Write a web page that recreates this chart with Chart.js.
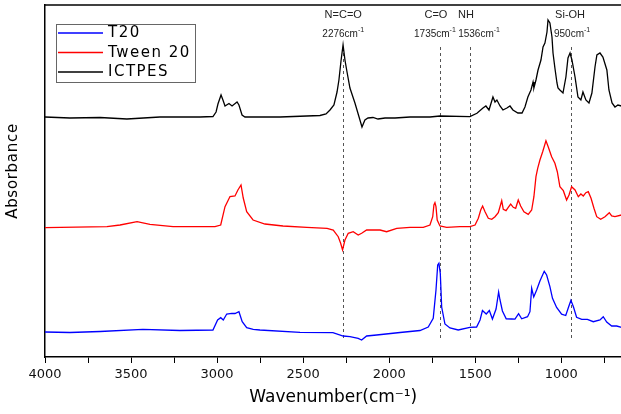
<!DOCTYPE html>
<html><head><meta charset="utf-8">
<script src="https://cdn.jsdelivr.net/npm/chart.js@4.4.1/dist/chart.umd.min.js"></script>
<style>html,body{margin:0;padding:0;background:#fff;overflow:hidden}#wrap{width:625px;height:414px}</style>
</head><body><div id="wrap"><canvas id="c" width="625" height="414"></canvas></div>
<script>
// ---- data (wavenumber in cm-1, absorbance in arbitrary offset units) ----
const t20Wavenumbers = [4000,3855,3680,3431,3216,3024,2997,2979,2964,2944,2915,2896,2873,2854,2828,2790,2751,2518,2327,2267,2228,2180,2160,2131,2073,1937,1821,1773,1744,1728,1718,1711,1703,1695,1676,1647,1599,1531,1492,1472,1458,1436,1418,1400,1379,1364,1356,1342,1320,1288,1269,1248,1230,1196,1182,1172,1160,1143,1124,1099,1085,1066,1051,1027,998,974,957,944,929,911,881,848,814,775,756,736,707,678,650];
const t20Values = [0.24,0.235,0.245,0.267,0.255,0.26,0.36,0.383,0.36,0.42,0.427,0.425,0.443,0.343,0.283,0.267,0.26,0.237,0.233,0.20,0.193,0.177,0.16,0.20,0.21,0.235,0.255,0.29,0.377,0.66,0.91,0.927,0.827,0.49,0.32,0.28,0.26,0.287,0.29,0.36,0.455,0.42,0.455,0.37,0.47,0.64,0.56,0.45,0.372,0.37,0.368,0.423,0.372,0.393,0.443,0.677,0.59,0.66,0.75,0.847,0.81,0.693,0.577,0.485,0.418,0.405,0.493,0.557,0.49,0.387,0.367,0.367,0.343,0.36,0.393,0.34,0.30,0.30,0.287];

const tweenWavenumbers = [4000,3640,3564,3465,3390,3256,3012,2979,2954,2925,2896,2879,2861,2848,2828,2791,2722,2617,2479,2361,2325,2296,2282,2271,2257,2238,2209,2180,2160,2131,2053,2015,1956,1879,1802,1763,1747,1740,1734,1728,1721,1705,1666,1589,1531,1501,1482,1468,1457,1443,1424,1404,1385,1366,1356,1346,1337,1321,1308,1294,1279,1265,1250,1236,1217,1192,1172,1159,1147,1137,1124,1108,1089,1076,1056,1037,1023,1008,988,969,955,940,920,901,886,872,857,843,827,810,794,771,746,721,707,688,650];
const tweenValues = [1.283,1.293,1.31,1.343,1.317,1.293,1.293,1.31,1.493,1.595,1.60,1.66,1.71,1.58,1.443,1.36,1.32,1.30,1.287,1.277,1.26,1.193,1.127,1.06,1.16,1.227,1.243,1.21,1.227,1.26,1.26,1.243,1.277,1.287,1.287,1.31,1.393,1.51,1.533,1.493,1.36,1.30,1.287,1.293,1.293,1.31,1.377,1.46,1.50,1.443,1.377,1.367,1.393,1.433,1.493,1.553,1.467,1.453,1.487,1.52,1.487,1.477,1.56,1.50,1.443,1.417,1.46,1.593,1.793,1.877,1.96,2.043,2.153,2.093,1.993,1.927,1.843,1.693,1.653,1.56,1.61,1.693,1.66,1.593,1.62,1.60,1.633,1.643,1.577,1.477,1.393,1.367,1.393,1.433,1.40,1.393,1.41];

const ictpesWavenumbers = [4000,3855,3680,3524,3332,3099,3024,3006,2995,2977,2966,2954,2931,2913,2884,2873,2855,2838,2634,2402,2367,2344,2321,2303,2292,2280,2268,2257,2245,2228,2199,2175,2158,2141,2123,2094,2065,2024,1966,1879,1763,1705,1531,1490,1455,1438,1420,1397,1385,1374,1356,1339,1316,1298,1281,1252,1228,1211,1194,1176,1164,1159,1147,1135,1118,1106,1095,1083,1077,1066,1054,1048,1037,1025,1019,1008,990,973,961,949,938,920,903,886,874,857,839,822,804,793,775,758,735,723,705,688,671,650];
const ictpesValues = [2.39,2.38,2.385,2.37,2.39,2.39,2.395,2.44,2.52,2.61,2.56,2.50,2.525,2.50,2.54,2.51,2.41,2.39,2.39,2.405,2.42,2.46,2.51,2.64,2.76,2.95,3.11,2.96,2.84,2.68,2.53,2.39,2.29,2.36,2.38,2.385,2.37,2.38,2.38,2.39,2.39,2.40,2.393,2.427,2.48,2.50,2.46,2.59,2.54,2.56,2.50,2.46,2.48,2.50,2.46,2.43,2.43,2.49,2.59,2.66,2.74,2.68,2.76,2.86,2.96,3.09,3.13,3.24,3.36,3.33,3.19,3.03,2.88,2.73,2.68,2.66,2.63,2.79,2.98,3.03,2.96,2.79,2.59,2.56,2.64,2.56,2.53,2.63,2.89,3.01,3.03,2.99,2.86,2.66,2.53,2.49,2.51,2.50];

const seriesNames = ['T20', 'Tween 20', 'ICTPES'];
const xTickValues = [4000,3750,3500,3250,3000,2750,2500,2250,2000,1750,1500,1250,1000,750];
const xTickLabels = ['4000','','3500','','3000','','2500','','2000','','1500','','1000',''];
const xTitle = 'Wavenumber(cm⁻¹)';
const yTitle = 'Absorbance';

// band markers
const markerWavenumbers = [2267, 1705, 1530, 943];
const markerGroups = ['N=C=O', 'C=O', 'NH', 'Si-OH'];
const markerPositions = ['2276', '1735', '1536', '950'];

// ---- styling ----
const SANS = '"Liberation Sans", Arial, sans-serif';
const WIDE = '"DejaVu Sans", sans-serif';
const colors = ['#0000ff', '#ff0000', '#000000'];
const groupDx = [0, -4, -4, -1];
const posDx = [0, -5, 9, 1];

const toPts = (xs, ys) => xs.map((x, i) => ({x, y: ys[i]}));

function drawSup(ctx, base, sup, cx, cy, size) {
  ctx.font = size + 'px ' + SANS;
  const wb = ctx.measureText(base).width;
  ctx.font = Math.round(size * 0.65) + 'px ' + SANS;
  const ws = ctx.measureText(sup).width;
  const x0 = cx - (wb + ws) / 2;
  ctx.textAlign = 'left';
  ctx.textBaseline = 'middle';
  ctx.font = size + 'px ' + SANS;
  ctx.fillText(base, x0, cy);
  ctx.font = Math.round(size * 0.65) + 'px ' + SANS;
  ctx.fillText(sup, x0 + wb, cy - size * 0.35);
}

const overlay = {
  id: 'overlay',
  beforeDatasetsDraw(chart) {
    const {ctx, chartArea: ca} = chart;
    const x = chart.scales.x;
    ctx.save();
    ctx.strokeStyle = '#555';
    ctx.lineWidth = 1;
    ctx.setLineDash([3, 3]);
    markerWavenumbers.forEach(w => {
      const px = Math.round(x.getPixelForValue(w)) + 0.5;
      ctx.beginPath();
      ctx.moveTo(px, ca.top + 42);
      ctx.lineTo(px, ca.bottom - 17);
      ctx.stroke();
    });
    ctx.setLineDash([]);
    ctx.fillStyle = '#222';
    markerWavenumbers.forEach((w, i) => {
      const px = x.getPixelForValue(w);
      ctx.font = '11px ' + SANS;
      ctx.textAlign = 'center';
      ctx.textBaseline = 'middle';
      ctx.fillText(markerGroups[i], px + groupDx[i], ca.top + 10);
      drawSup(ctx, markerPositions[i] + 'cm', '-1', px + posDx[i], ca.top + 29, 10);
    });
    // y axis title
    ctx.save();
    ctx.translate(13, 171);
    ctx.rotate(-Math.PI / 2);
    ctx.fillStyle = '#000';
    ctx.font = '15px ' + WIDE;
    ctx.letterSpacing = '0.7px';
    ctx.textAlign = 'center';
    ctx.textBaseline = 'middle';
    ctx.fillText(yTitle, 0, 0);
    ctx.restore();
    ctx.restore();
  },
  afterDraw(chart) {
    const {ctx, chartArea: ca} = chart;
    ctx.save();
    // top frame line
    ctx.strokeStyle = '#000';
    ctx.lineWidth = 1.5;
    ctx.beginPath();
    ctx.moveTo(ca.left, ca.top);
    ctx.lineTo(ca.right + 5, ca.top);
    ctx.stroke();
    // legend box
    const bx = 56.5, by = 24.5, bw = 139, bh = 58;
    ctx.fillStyle = '#fff';
    ctx.fillRect(bx, by, bw, bh);
    ctx.strokeStyle = '#666';
    ctx.lineWidth = 1;
    ctx.strokeRect(bx, by, bw, bh);
    chart.data.datasets.forEach((ds, i) => {
      const y = 33 + i * 19.5;
      ctx.strokeStyle = ds.borderColor;
      ctx.lineWidth = 1.3;
      ctx.beginPath();
      ctx.moveTo(58, y);
      ctx.lineTo(103, y);
      ctx.stroke();
      ctx.fillStyle = '#000';
      ctx.font = '15px ' + WIDE;
      ctx.letterSpacing = '1.5px';
      ctx.textAlign = 'left';
      ctx.textBaseline = 'middle';
      ctx.fillText(ds.label, 108, y + 0.5);
    });
    ctx.restore();
  }
};

new Chart(document.getElementById('c'), {
  type: 'line',
  data: {
    datasets: [
      {label: seriesNames[0], data: toPts(t20Wavenumbers, t20Values), borderColor: colors[0]},
      {label: seriesNames[1], data: toPts(tweenWavenumbers, tweenValues), borderColor: colors[1]},
      {label: seriesNames[2], data: toPts(ictpesWavenumbers, ictpesValues), borderColor: colors[2]}
    ].map(d => Object.assign(d, {borderWidth: 1.3, pointRadius: 0, fill: false, tension: 0}))
  },
  options: {
    responsive: false,
    animation: false,
    devicePixelRatio: 1,
    layout: {padding: {left: 0, right: 3.5, top: 5, bottom: 0}},
    plugins: {legend: {display: false}, tooltip: {enabled: false}},
    scales: {
      x: {
        type: 'linear', reverse: true, min: 650, max: 4000,
        afterBuildTicks: s => { s.ticks = xTickValues.map(v => ({value: v})); },
        afterFit: s => { s.height = 57; },
        ticks: {autoSkip: false, maxRotation: 0, padding: 4, color: '#111',
                font: {family: WIDE, size: 13},
                callback: (v, i) => xTickLabels[i]},
        grid: {drawOnChartArea: false, drawTicks: true, tickLength: 6, color: '#000', tickWidth: 1},
        border: {display: true, color: '#000', width: 1.5},
        title: {display: true, text: xTitle, color: '#000',
                font: {family: WIDE, size: 17}, padding: {top: 0, bottom: 6}}
      },
      y: {
        min: -0.01, max: 3.51,
        afterFit: s => { s.width = 45; },
        ticks: {display: false},
        grid: {drawOnChartArea: false, drawTicks: false},
        border: {display: true, color: '#000', width: 1.5},
        title: {display: false}
      }
    }
  },
  plugins: [overlay]
});
</script>
</body></html>
